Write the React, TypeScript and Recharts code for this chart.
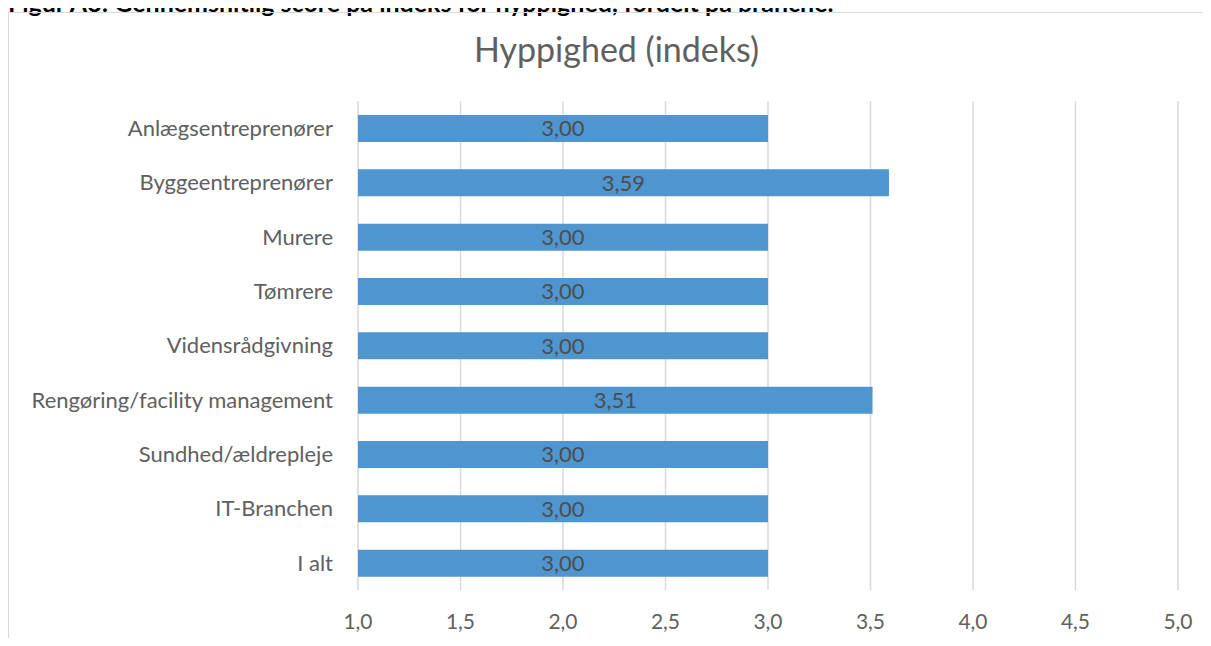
import { BarChart, Bar, XAxis, YAxis, CartesianGrid, LabelList } from 'recharts';

const categories = [
  'Anlægsentreprenører',
  'Byggeentreprenører',
  'Murere',
  'Tømrere',
  'Vidensrådgivning',
  'Rengøring/facility management',
  'Sundhed/ældrepleje',
  'IT-Branchen',
  'I alt',
];
const values = [3.0, 3.59, 3.0, 3.0, 3.0, 3.51, 3.0, 3.0, 3.0];
const xTicks = [1, 1.5, 2, 2.5, 3, 3.5, 4, 4.5, 5];

const data = categories.map((name, i) => ({ name, value: values[i] }));

const FONT = 'Lato, "Open Sans", sans-serif';
const GREY = '#606060';

const fmt1 = (v: number) => v.toFixed(1).replace('.', ',');
const fmt2 = (v: number) => v.toFixed(2).replace('.', ',');

export default function App() {
  return (
    <div style={{ position: 'relative', width: 1211, height: 646, margin: -8, overflow: 'hidden', background: '#fff', fontFamily: FONT }}>
      <div style={{ position: 'absolute', left: 8, top: -13, fontFamily: FONT, fontWeight: 700, fontSize: 25, lineHeight: '30px', color: '#000', whiteSpace: 'nowrap' }}>
        Figur A3: Gennemsnitlig score på indeks for hyppighed, fordelt på branche.
      </div>
      <div style={{ position: 'absolute', left: 8, top: 12, width: 1230, height: 660, border: '1.5px solid #d9d9d9', boxSizing: 'border-box' }} />
      <div style={{ position: 'absolute', left: 0, width: 1233, top: 29, textAlign: 'center', fontSize: 34, lineHeight: '40px', color: GREY }}>
        Hyppighed (indeks)
      </div>
      <div style={{ position: 'absolute', left: 9, top: 13 }}>
        <BarChart
          width={1202}
          height={633}
          data={data}
          layout="vertical"
          margin={{ top: 88, right: 33, left: 0, bottom: 16 }}
        >
          <CartesianGrid horizontal={false} stroke="#d9d9d9" strokeWidth={1.5} />
          <XAxis
            type="number"
            domain={[1, 5]}
            ticks={xTicks}
            tickFormatter={fmt1}
            axisLine={false}
            tickLine={false}
            height={40}
            tick={{ fill: GREY, fontSize: 21, fontFamily: FONT }}
            tickMargin={18}
            allowDataOverflow
          />
          <YAxis
            type="category"
            dataKey="name"
            width={349}
            axisLine={false}
            tickLine={false}
            tickMargin={19}
            tick={{ fill: GREY, fontSize: 22, fontFamily: FONT }}
          />
          <Bar dataKey="value" fill="#4F95D0" barSize={27} isAnimationActive={false}>
            <LabelList dataKey="value" position="center" formatter={fmt2} fill="#4d4d4d" fontSize={22} fontFamily={FONT} />
          </Bar>
        </BarChart>
      </div>
    </div>
  );
}
